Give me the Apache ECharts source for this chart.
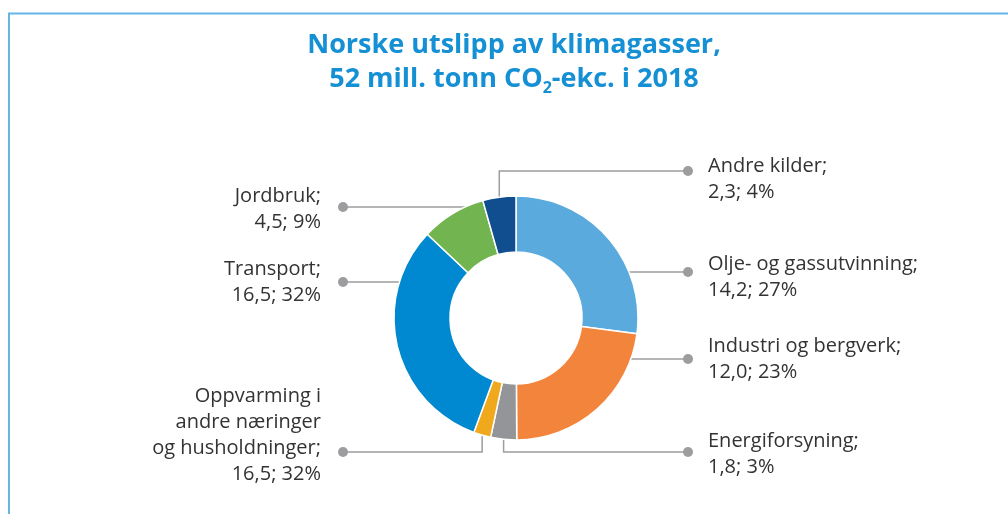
<!DOCTYPE html>
<html>
<head>
<meta charset="utf-8">
<script src="https://cdn.jsdelivr.net/npm/echarts@6/dist/echarts.min.js"></script>
<style>
  html, body { margin: 0; padding: 0; background: #fff; }
  #chart { width: 1008px; height: 514px; }
</style>
</head>
<body>
<div id="chart"></div>
<script>
// Sektorer med utgangspunkt klokka 12, med klokka
const names = [
  "Olje- og gassutvinning",
  "Industri og bergverk",
  "Energiforsyning",
  "Oppvarming i\nandre næringer\nog husholdninger",
  "Transport",
  "Jordbruk",
  "Andre kilder"
];
const values = [14.2, 12.0, 1.8, 1.2, 16.5, 4.5, 2.3];
// etikettene slik de står i figuren
const labelValues = ["14,2", "12,0", "1,8", "16,5", "16,5", "4,5", "2,3"];
const labelShares = ["27%", "23%", "3%", "32%", "32%", "9%", "4%"];
const colors = ["#5aaade", "#f3843b", "#939598", "#f0a91d", "#0088d0", "#72b44f", "#104e8f"];

// plassering av etiketter (venstre/høyre, topp av tekst, prikk-y, linjetype)
const side = ["r", "r", "r", "l", "l", "l", "r"];
const textTop = [251, 333, 428, 383, 256, 183, 153];
const dotY = [272, 359, 452, 452, 282, 207, 171];
const lineKind = ["h", "h", "v", "v", "h", "h", "v"];

const CX = 516, CY = 318, R_IN = 66, R_OUT = 122;
const DOT_L = 343, DOT_R = 688, TEXT_L = 321, TEXT_R = 708;
const LINE_COLOR = "#9d9d9f";
const TITLE_COLOR = "#1590d4";

const total = values.reduce((a, b) => a + b, 0);
const midAngles = [];
let acc = 0;
for (const v of values) {
  midAngles.push(((acc + v / 2) / total) * 2 * Math.PI);
  acc += v;
}

function linePoints(i) {
  const dotX = side[i] === "r" ? DOT_R : DOT_L;
  const y = dotY[i];
  if (lineKind[i] === "h") {
    const dx = Math.sqrt(R_OUT * R_OUT - (y - CY) * (y - CY));
    const x0 = side[i] === "r" ? CX + dx : CX - dx;
    return [[x0, y], [(x0 + dotX) / 2, y], [dotX, y]];
  }
  const a = midAngles[i];
  const x0 = CX + R_OUT * Math.sin(a);
  const y0 = CY - R_OUT * Math.cos(a);
  return [[x0, y0], [x0, y], [dotX, y]];
}

const chart = echarts.init(document.getElementById("chart"));

const graphics = [
  { type: "polyline", shape: { points: [[9, 514], [9, 13.5], [1008, 13.5]] },
    style: { stroke: "#63b6e6", lineWidth: 2, fill: null }, silent: true },
  {
    type: "text", x: 514, y: 28, silent: true,
    style: {
      text: "Norske utslipp av klimagasser,\n52 mill. tonn CO{sub|2}-ekc. i 2018",
      align: "center",
      verticalAlign: "top",
      fill: TITLE_COLOR,
      fontFamily: "Open Sans",
      fontSize: 27,
      fontWeight: "bold",
      lineHeight: 34,
      rich: {
        sub: { fill: TITLE_COLOR, fontFamily: "Open Sans", fontSize: 16, fontWeight: "bold",
               lineHeight: 16, verticalAlign: "bottom" }
      }
    }
  }
];
names.forEach((n, i) => {
  graphics.push({
    type: "circle",
    shape: { cx: side[i] === "r" ? DOT_R : DOT_L, cy: dotY[i], r: 5 },
    style: { fill: LINE_COLOR },
    silent: true
  });
});

chart.setOption({
  backgroundColor: "#fff",
  animation: false,
  graphic: graphics,
  series: [{
    type: "pie",
    center: [CX, CY],
    radius: [R_IN, R_OUT],
    startAngle: 90,
    clockwise: true,
    avoidLabelOverlap: false,
    emphasis: { disabled: true },
    itemStyle: { borderColor: "#fff", borderWidth: 1.5 },
    label: {
      show: true,
      position: "outside",
      fontFamily: "Open Sans",
      fontSize: 20,
      lineHeight: 26,
      color: "#333333",
      formatter: (p) => names[p.dataIndex] + ";\n" + labelValues[p.dataIndex] + "; " + labelShares[p.dataIndex]
    },
    labelLine: { show: true, lineStyle: { color: LINE_COLOR, width: 1.5 } },
    labelLayout: (p) => {
      const i = p.dataIndex;
      return {
        x: side[i] === "r" ? TEXT_R : TEXT_L,
        y: textTop[i],
        align: side[i] === "r" ? "left" : "right",
        verticalAlign: "top",
        labelLinePoints: linePoints(i)
      };
    },
    data: names.map((n, i) => ({ name: n, value: values[i], itemStyle: { color: colors[i] } }))
  }]
});
</script>
</body>
</html>
